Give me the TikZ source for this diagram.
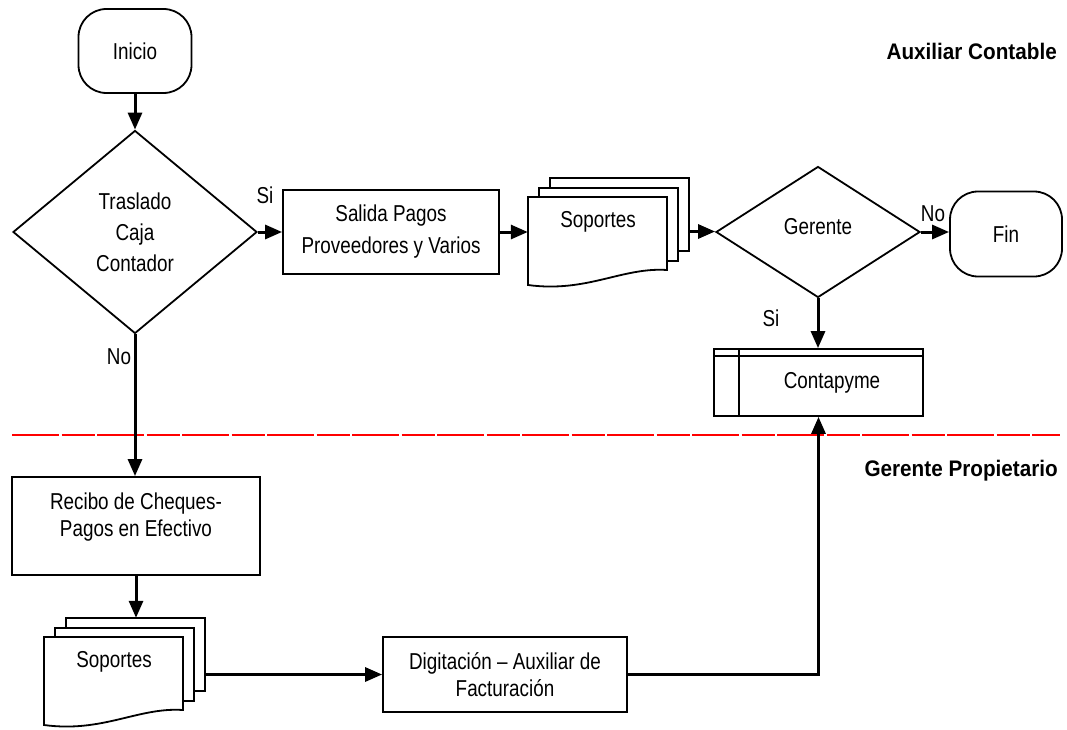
\documentclass[tikz,border=0pt]{standalone}
\usepackage{fontspec}
\setmainfont{Liberation Sans}[FakeStretch=0.82]
\newfontfamily\lanefont{Liberation Sans}[FakeStretch=0.92]
\usetikzlibrary{shapes.geometric,arrows.meta}

\tikzset{
  shapeline/.style={draw=black, line width=1.8pt, fill=white},
  procbox/.style={shapeline, rectangle, inner sep=0pt, align=center},
  termbox/.style={shapeline, rectangle, rounded corners=28pt, inner sep=0pt},
  decision/.style={shapeline, diamond, inner sep=0pt, align=center},
  txt/.style={inner sep=0pt, align=center},
  conn/.style={line width=3pt, -{Triangle[length=17pt,width=14pt]}},
  lane/.style={inner sep=0pt, anchor=east, font=\lanefont\bfseries\fontsize{22.5}{27}\selectfont},
  laneline/.style={draw=red, line width=2pt, dash pattern=on 47pt off 2.5pt on 33pt off 2.5pt},
}

% stack of three documents: name, left x, top y of the front sheet, caption
\newcommand\multidoc[4]{%
  \draw[shapeline] (#2+22,#3-19) rectangle (#2+161,#3+54);
  \draw[shapeline] (#2+11,#3-9) rectangle (#2+150,#3+64);
  \draw[shapeline] (#2,#3) -- (#2+139,#3) -- (#2+139,#3+73)
     .. controls (#2+94,#3+70) and (#2+59,#3+96) .. (#2,#3+88) -- cycle;
  \node[inner sep=0pt, minimum width=161pt, minimum height=107pt] (#1) at (#2+80.5,#3+34.5) {};
  \node[txt] (#1-text) at (#2+70,#3+25) {#4};
}

\begin{document}
\begin{tikzpicture}[x=1pt,y=-1pt,
  every node/.style={font=\fontsize{23}{27}\selectfont, text=black}]
\useasboundingbox (0,0) rectangle (1067,730);

% swimlane separator
\coordinate (laneL) at (12,435);
\coordinate (laneR) at (1060,435);
\draw[laneline] (laneL) -- (laneR);

\node[lane] (lane1) at (1057,51) {Auxiliar Contable};
\node[lane] (lane2) at (1058,471) {Gerente Propietario};

% upper lane
\node[termbox, minimum width=113pt, minimum height=84pt] (ini) at (135,51) {Inicio};
\node[decision, minimum width=244pt, minimum height=203pt] (d1) at (135,232)
  {Traslado\\[4pt]Caja\\[4pt]Contador};
\node[procbox, minimum width=216pt, minimum height=84pt] (sal) at (391,232)
  {Salida Pagos\\[5pt]Proveedores y Varios};
\multidoc{sop1}{528}{197}{Soportes}
\node[decision, minimum width=204pt, minimum height=131pt] (ger) at (818,232) {};
\node[txt] (ger-text) at (818,227) {Gerente};
\node[termbox, minimum width=112pt, minimum height=85pt] (fin) at (1006,234) {Fin};

% predefined process
\node[procbox, minimum width=209pt, minimum height=67pt] (cont) at (818.5,382.5) {};
\draw[line width=1.8pt] ([yshift=-8pt]cont.north west) -- ([yshift=-8pt]cont.north east);
\draw[line width=1.8pt] ([xshift=26pt]cont.north west) -- ([xshift=26pt]cont.south west);
\node[txt] (cont-text) at (832,383) {Contapyme};

% lower lane
\node[procbox, minimum width=248pt, minimum height=98pt] (rec) at (136,526) {};
\node[txt] (rec-text) at (136,517) {Recibo de Cheques-\\Pagos en Efectivo};
\multidoc{sop2}{44}{637}{Soportes}
\node[procbox, minimum width=244pt, minimum height=75pt] (dig) at (505,674.5)
  {Digitación – Auxiliar de\\Facturación};

% branch labels
\node[txt] (si1) at (265,195) {Si};
\node[txt] (no1) at (119,357) {No};
\node[txt] (no2) at (933,214) {No};
\node[txt] (si2) at (771,318) {Si};

% connectors
\draw[conn] (ini) -- (d1);
\draw[conn] (d1.east) -- (d1.east -| sal.west);
\draw[conn] (sal.east) -- (sal.east -| sop1.west);
\draw[conn] (sop1.east) -- (sop1.east -| ger.west);
\draw[conn] (ger.east) -- (ger.east -| fin.west);
\draw[conn] (ger.south) -- (ger.south |- cont.north);
\draw[conn] (d1.south) -- (d1.south |- rec.north);
\draw[conn] (rec.south) -- (rec.south |- sop2.north);
\draw[conn] (sop2.east |- dig.west) -- (dig.west);
\draw[conn] (dig.east) -| (cont.south);
\end{tikzpicture}
\end{document}
